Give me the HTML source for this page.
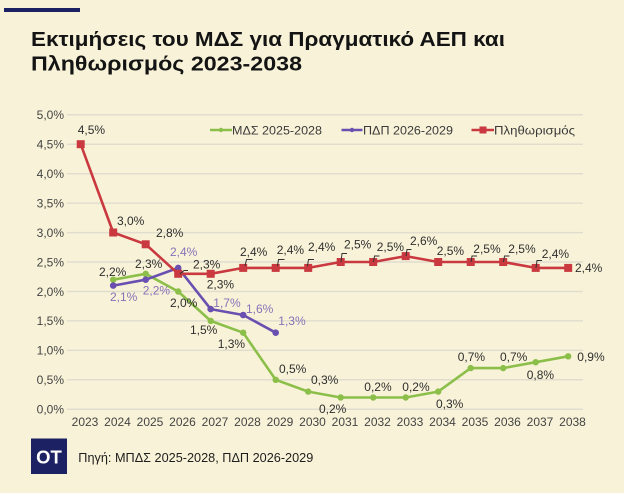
<!DOCTYPE html>
<html>
<head>
<meta charset="utf-8">
<style>
html,body{margin:0;padding:0;background:#f8f3d8;}
svg{display:block;}
text{font-family:"Liberation Sans","DejaVu Sans",sans-serif;}
</style>
</head>
<body>
<svg width="624" height="493" viewBox="0 0 624 493" xmlns="http://www.w3.org/2000/svg">
<rect x="0" y="0" width="624" height="493" fill="#f8f3d8"/>
<rect x="4" y="8" width="76" height="4" fill="#1b2163"/>
<text x="31" y="46" font-size="20" font-weight="bold" fill="#141414" textLength="474" lengthAdjust="spacingAndGlyphs">Εκτιμήσεις του ΜΔΣ για Πραγματικό ΑΕΠ και</text>
<text x="31" y="70.5" font-size="20" font-weight="bold" fill="#141414" textLength="271" lengthAdjust="spacingAndGlyphs">Πληθωρισμός 2023-2038</text>

<!-- gridlines -->
<g stroke="#e0ddcf" stroke-width="1.5">
<line x1="67" y1="114.7" x2="583" y2="114.7"/>
<line x1="67" y1="144.2" x2="583" y2="144.2"/>
<line x1="67" y1="173.7" x2="583" y2="173.7"/>
<line x1="67" y1="203.1" x2="583" y2="203.1"/>
<line x1="67" y1="232.6" x2="583" y2="232.6"/>
<line x1="67" y1="262.0" x2="583" y2="262.0"/>
<line x1="67" y1="291.5" x2="583" y2="291.5"/>
<line x1="67" y1="320.9" x2="583" y2="320.9"/>
<line x1="67" y1="350.4" x2="583" y2="350.4"/>
<line x1="67" y1="379.8" x2="583" y2="379.8"/>
<line x1="67" y1="409.3" x2="583" y2="409.3"/>
</g>

<!-- y labels -->
<g font-size="12" fill="#444" text-anchor="end">
<text x="64" y="119">5,0%</text>
<text x="64" y="148.5">4,5%</text>
<text x="64" y="178">4,0%</text>
<text x="64" y="207.4">3,5%</text>
<text x="64" y="236.9">3,0%</text>
<text x="64" y="266.3">2,5%</text>
<text x="64" y="295.8">2,0%</text>
<text x="64" y="325.2">1,5%</text>
<text x="64" y="354.7">1,0%</text>
<text x="64" y="384.1">0,5%</text>
<text x="64" y="413.6">0,0%</text>
</g>

<!-- x labels -->
<g font-size="12" fill="#444" text-anchor="middle">
<text x="85" y="426">2023</text>
<text x="117.5" y="426">2024</text>
<text x="150" y="426">2025</text>
<text x="182.5" y="426">2026</text>
<text x="215" y="426">2027</text>
<text x="247.5" y="426">2028</text>
<text x="280" y="426">2029</text>
<text x="312.5" y="426">2030</text>
<text x="345" y="426">2031</text>
<text x="377.5" y="426">2032</text>
<text x="410" y="426">2033</text>
<text x="442.5" y="426">2034</text>
<text x="475" y="426">2035</text>
<text x="507.5" y="426">2036</text>
<text x="540" y="426">2037</text>
<text x="572.5" y="426">2038</text>
</g>

<!-- legend -->
<line x1="210" y1="130" x2="232" y2="130" stroke="#8cbf4a" stroke-width="2.5"/>
<circle cx="221" cy="130" r="2.2" fill="#8cbf4a"/>
<text x="232" y="134.3" font-size="12" fill="#3a3a3a" textLength="90" lengthAdjust="spacingAndGlyphs">ΜΔΣ 2025-2028</text>
<line x1="341.5" y1="130" x2="362.5" y2="130" stroke="#6a4fb0" stroke-width="2.5"/>
<circle cx="352" cy="130" r="2.2" fill="#6a4fb0"/>
<text x="363" y="134.3" font-size="12" fill="#3a3a3a" textLength="90" lengthAdjust="spacingAndGlyphs">ΠΔΠ 2026-2029</text>
<line x1="471.5" y1="130" x2="494" y2="130" stroke="#c9393f" stroke-width="2.5"/>
<rect x="479.5" y="126.5" width="7" height="7" fill="#c9393f"/>
<text x="494" y="134.3" font-size="12" fill="#3a3a3a" textLength="81" lengthAdjust="spacingAndGlyphs">Πληθωρισμός</text>

<!-- green series -->
<polyline fill="none" stroke="#8cbf4a" stroke-width="2.6" stroke-linejoin="round" points="113.2,279.7 145.7,273.8 178.2,291.5 210.7,320.9 243.2,332.7 275.7,379.8 308.2,391.6 340.7,397.5 373.2,397.5 405.7,397.5 438.2,391.6 470.7,368.1 503.2,368.1 535.7,362.2 568.2,356.3"/>
<g fill="#8cbf4a">
<circle cx="113.2" cy="279.7" r="3.2"/><circle cx="145.7" cy="273.8" r="3.2"/><circle cx="178.2" cy="291.5" r="3.2"/><circle cx="210.7" cy="320.9" r="3.2"/><circle cx="243.2" cy="332.7" r="3.2"/><circle cx="275.7" cy="379.8" r="3.2"/><circle cx="308.2" cy="391.6" r="3.2"/><circle cx="340.7" cy="397.5" r="3.2"/><circle cx="373.2" cy="397.5" r="3.2"/><circle cx="405.7" cy="397.5" r="3.2"/><circle cx="438.2" cy="391.6" r="3.2"/><circle cx="470.7" cy="368.1" r="3.2"/><circle cx="503.2" cy="368.1" r="3.2"/><circle cx="535.7" cy="362.2" r="3.2"/><circle cx="568.2" cy="356.3" r="3.2"/>
</g>

<!-- purple series -->
<polyline fill="none" stroke="#6a4fb0" stroke-width="2.6" stroke-linejoin="round" points="113.2,285.6 145.7,279.7 178.2,267.9 210.7,309.1 243.2,315.0 275.7,332.7"/>
<g fill="#6a4fb0">
<circle cx="113.2" cy="285.6" r="3.3"/><circle cx="145.7" cy="279.7" r="3.3"/><circle cx="178.2" cy="267.9" r="3.3"/><circle cx="210.7" cy="309.1" r="3.3"/><circle cx="243.2" cy="315.0" r="3.3"/><circle cx="275.7" cy="332.7" r="3.3"/>
</g>

<!-- red series -->
<polyline fill="none" stroke="#c9393f" stroke-width="2.6" stroke-linejoin="round" points="80.7,144.2 113.2,232.5 145.7,244.3 178.2,273.8 210.7,273.8 243.2,267.9 275.7,267.9 308.2,267.9 340.7,262.0 373.2,262.0 405.7,256.1 438.2,262.0 470.7,262.0 503.2,262.0 535.7,267.9 568.2,267.9"/>
<g fill="#c9393f">
<rect x="76.7" y="140.2" width="8" height="8"/>
<rect x="109.2" y="228.5" width="8" height="8"/>
<rect x="141.7" y="240.3" width="8" height="8"/>
<rect x="174.2" y="269.8" width="8" height="8"/>
<rect x="206.7" y="269.8" width="8" height="8"/>
<rect x="239.2" y="263.9" width="8" height="8"/>
<rect x="271.7" y="263.9" width="8" height="8"/>
<rect x="304.2" y="263.9" width="8" height="8"/>
<rect x="336.7" y="258.0" width="8" height="8"/>
<rect x="369.2" y="258.0" width="8" height="8"/>
<rect x="401.7" y="252.1" width="8" height="8"/>
<rect x="434.2" y="258.0" width="8" height="8"/>
<rect x="466.7" y="258.0" width="8" height="8"/>
<rect x="499.2" y="258.0" width="8" height="8"/>
<rect x="531.7" y="263.9" width="8" height="8"/>
<rect x="564.2" y="263.9" width="8" height="8"/>
</g>

<!-- leader lines -->
<g fill="none" stroke="#333" stroke-width="1">
<polyline points="180,274 184,270.5 188,270.5"/>
<polyline points="245,266 246.5,259.5 252.5,259.5"/>
<polyline points="277.5,266 278.5,259.5 284.5,259.5"/>
<polyline points="307.5,266 308.5,259.5 314,259.5"/>
<polyline points="341,262 342,253.5 347,253.5"/>
<polyline points="373.5,262 374.5,256 379.5,256"/>
<polyline points="406,256 407,249.5 411.5,249.5"/>
<polyline points="471,262 472,256 477,256"/>
<polyline points="503.5,262 504.5,256 509.5,256"/>
<polyline points="536,268 537,260.5 542,260.5"/>
</g>

<!-- red labels -->
<g font-size="12" fill="#2e2e2e">
<text x="77.7" y="133.8">4,5%</text>
<text x="117" y="225.2">3,0%</text>
<text x="156" y="237.2">2,8%</text>
<text x="193" y="268.5">2,3%</text>
<text x="206.7" y="288.5">2,3%</text>
<text x="240" y="256.2">2,4%</text>
<text x="276.7" y="254.2">2,4%</text>
<text x="308" y="251.2">2,4%</text>
<text x="344" y="248.5">2,5%</text>
<text x="376.7" y="251.2">2,5%</text>
<text x="410" y="245.2">2,6%</text>
<text x="436.7" y="255.2">2,5%</text>
<text x="473.3" y="252.8">2,5%</text>
<text x="508.3" y="252.8">2,5%</text>
<text x="541.7" y="257.8">2,4%</text>
<text x="575" y="271.8">2,4%</text>
</g>

<!-- green labels -->
<g font-size="12" fill="#2e2e2e">
<text x="99" y="276.2">2,2%</text>
<text x="135" y="267.8">2,3%</text>
<text x="170" y="307.2">2,0%</text>
<text x="190" y="333.8">1,5%</text>
<text x="217.7" y="347.8">1,3%</text>
<text x="279" y="372.8">0,5%</text>
<text x="311" y="383.8">0,3%</text>
<text x="319" y="412.8">0,2%</text>
<text x="364.3" y="391.2">0,2%</text>
<text x="402.3" y="391.2">0,2%</text>
<text x="436" y="407.8">0,3%</text>
<text x="457.7" y="361.2">0,7%</text>
<text x="500" y="361.2">0,7%</text>
<text x="526.7" y="378.8">0,8%</text>
<text x="577.3" y="361.2">0,9%</text>
</g>

<!-- purple labels -->
<g font-size="12" fill="#8672b8">
<text x="110" y="301.2">2,1%</text>
<text x="142.7" y="294.5">2,2%</text>
<text x="170" y="256.2">2,4%</text>
<text x="213.3" y="307.2">1,7%</text>
<text x="246" y="313.2">1,6%</text>
<text x="278.3" y="325.2">1,3%</text>
</g>

<!-- footer -->
<rect x="31" y="438.5" width="36" height="35.5" fill="#1b2163"/>
<text x="49" y="463.3" font-size="18.5" font-weight="bold" fill="#ffffff" text-anchor="middle">OT</text>
<text x="78.3" y="461.8" font-size="13" fill="#1e1e1e" textLength="235" lengthAdjust="spacingAndGlyphs">Πηγή: ΜΠΔΣ 2025-2028, ΠΔΠ 2026-2029</text>
</svg>
</body>
</html>
